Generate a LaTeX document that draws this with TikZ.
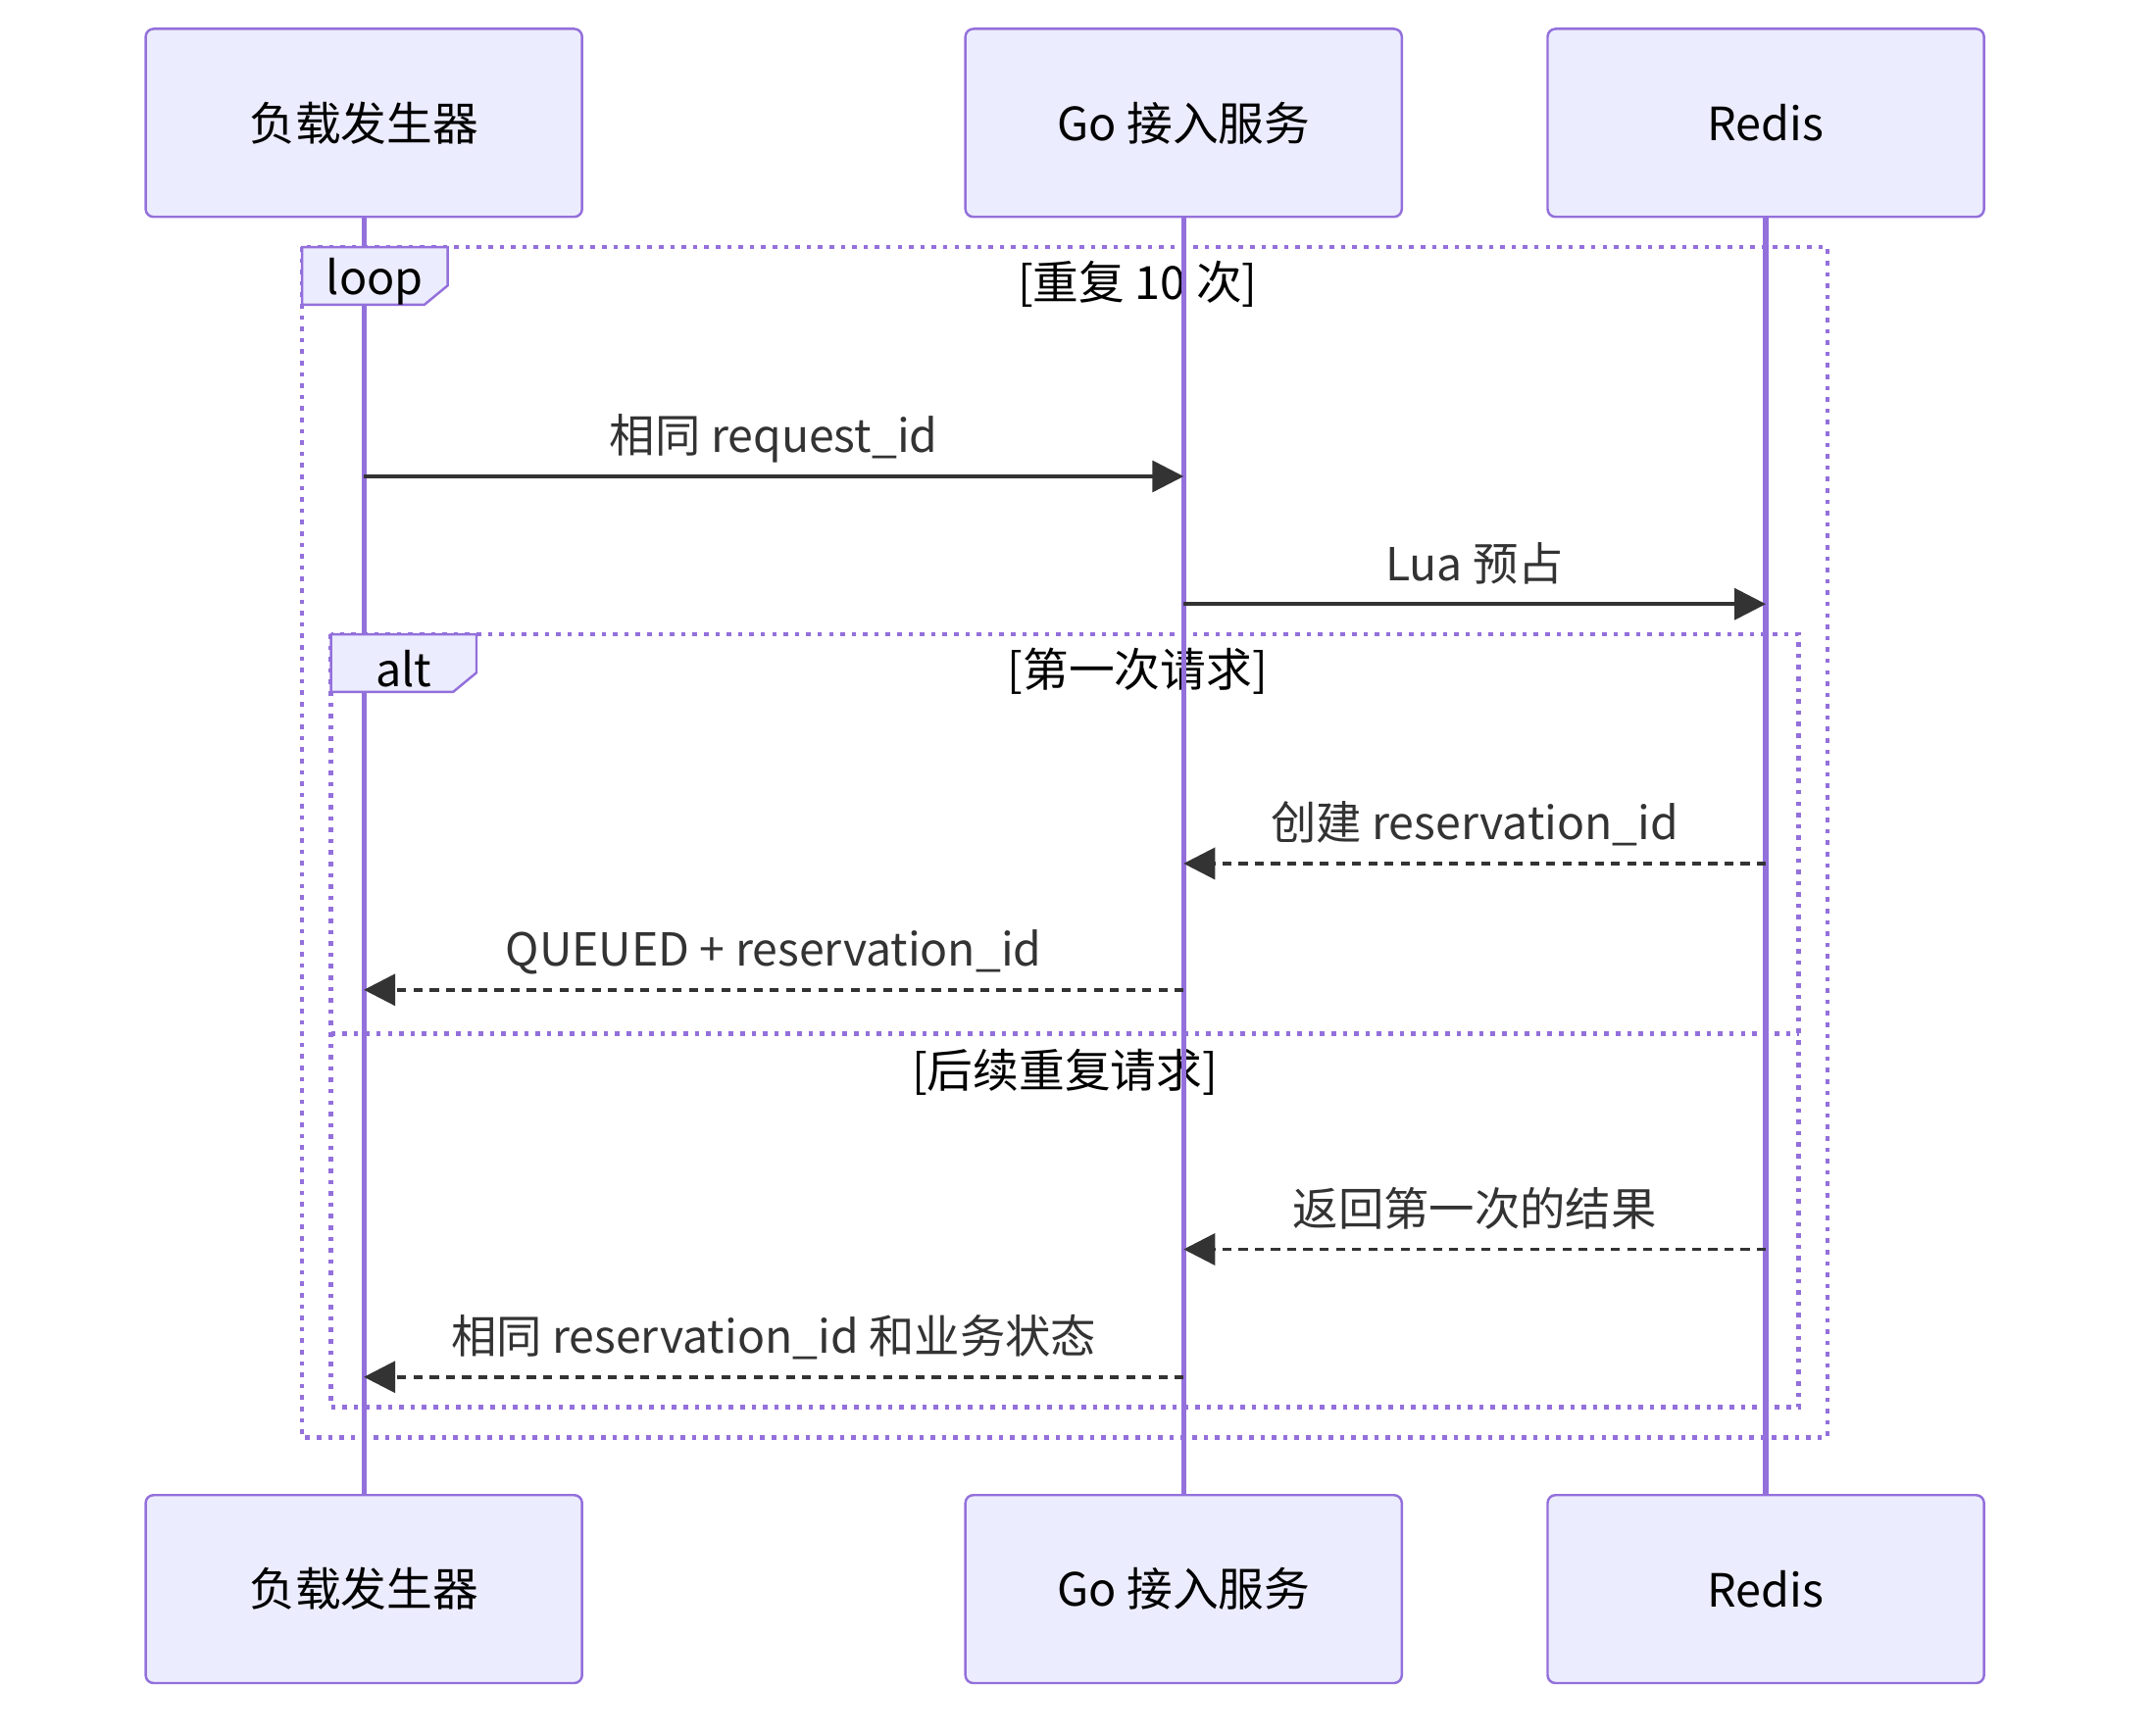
\documentclass[tikz,border=0pt]{standalone}
\usepackage{fontspec}
\setmainfont{Noto Sans CJK SC}
\usetikzlibrary{arrows.meta}
\definecolor{actorfill}{HTML}{ECECFF}
\definecolor{actorline}{HTML}{9370DB}
\definecolor{msgline}{HTML}{333333}

\begin{document}
\begin{tikzpicture}[x=0.014cm, y=-0.014cm]
	\tikzstyle{actor_box} = [draw=actorline, fill=actorfill, line width=0.7pt, rounded corners=0.08cm, minimum width=4.452cm, minimum height=1.918cm, font=\fontsize{13.3}{16}\selectfont, text=black]
	\tikzstyle{life_line} = [draw=actorline, line width=1.5pt]
	\tikzstyle{frame_dotted} = [draw=actorline, line width=1.3pt, dash pattern=on 1.3pt off 2pt]
	\tikzstyle{frame_tab} = [draw=actorline, fill=actorfill, line width=0.7pt]
	\tikzstyle{frame_label} = [font=\fontsize{13.3}{16}\selectfont, text=black, inner sep=0pt]
	\tikzstyle{tab_label} = [font=\fontsize{13.3}{16}\selectfont, text=black, inner sep=0pt]
	\tikzstyle{msg_solid} = [draw=msgline, line width=1pt, -{Triangle[length=0.32cm, width=0.32cm]}]
	\tikzstyle{msg_dashed} = [msg_solid, dash pattern=on 2.6pt off 2.1pt]
	\tikzstyle{msg_label} = [font=\fontsize{13.2}{16}\selectfont, text=msgline, inner sep=0pt, anchor=base, yshift=0.24cm]

	\useasboundingbox (0,0) rectangle (1568,1264);

%------------------------------------------------------------
	\node[actor_box] (gen_top)   at (265,89.5)  {负载发生器};
	\node[actor_box] (go_top)    at (862,89.5)  {Go 接入服务};
	\node[actor_box] (redis_top) at (1286,89.5) {Redis};

	\node[actor_box] (gen_bot)   at (265,1157.5)  {负载发生器};
	\node[actor_box] (go_bot)    at (862,1157.5)  {Go 接入服务};
	\node[actor_box] (redis_bot) at (1286,1157.5) {Redis};

%------------------------------------------------------------
	\draw[frame_dotted] (220,180) rectangle (1331,1047);
	\node[frame_label] (loop_cond) at (828.5,207) {[重复 10 次]};

	\draw[frame_dotted] (241,462) rectangle (1310,1025);
	\draw[frame_dotted] (241,753) -- (1310,753);
	\node[frame_label] (alt_cond) at (828.5,489) {[第一次请求]};
	\node[frame_label] (else_cond) at (775.5,781) {[后续重复请求]};

	\draw[life_line] (gen_top) -- (gen_bot);
	\draw[life_line] (go_top) -- (go_bot);
	\draw[life_line] (redis_top) -- (redis_bot);

	\draw[frame_tab] (220,180) -- (326,180) -- (326,208) -- (309,222) -- (220,222) -- cycle;
	\node[tab_label] (loop_tab) at (273,205) {loop};
	\draw[frame_tab] (241,462) -- (347,462) -- (347,490) -- (330,504) -- (241,504) -- cycle;
	\node[tab_label] (alt_tab) at (294,487) {alt};

%------------------------------------------------------------
	\coordinate (r1) at (0,347);
	\coordinate (r2) at (0,440);
	\coordinate (r3) at (0,629);
	\coordinate (r4) at (0,721);
	\coordinate (r5) at (0,910);
	\coordinate (r6) at (0,1003);

	\draw[msg_solid]  (gen_top |- r1) -- node[msg_label] {相同 request\_id} (go_top |- r1);
	\draw[msg_solid]  (go_top |- r2) -- node[msg_label] {Lua 预占} (redis_top |- r2);
	\draw[msg_dashed] (redis_top |- r3) -- node[msg_label] {创建 reservation\_id} (go_top |- r3);
	\draw[msg_dashed] (go_top |- r4) -- node[msg_label] {QUEUED + reservation\_id} (gen_top |- r4);
	\draw[msg_dashed] (redis_top |- r5) -- node[msg_label] {返回第一次的结果} (go_top |- r5);
	\draw[msg_dashed] (go_top |- r6) -- node[msg_label] {相同 reservation\_id 和业务状态} (gen_top |- r6);

\end{tikzpicture}
\end{document}
